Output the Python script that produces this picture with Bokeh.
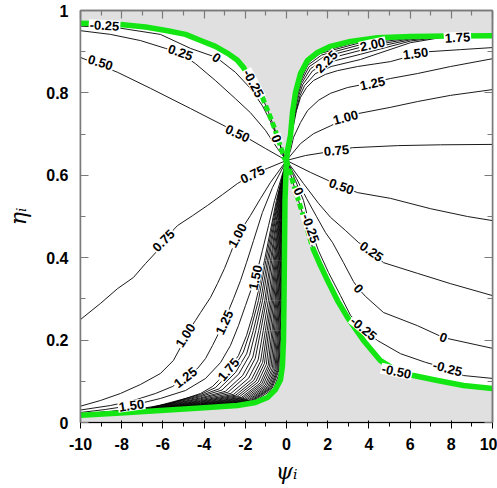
from bokeh.plotting import figure
from bokeh.models import ColumnDataSource, LinearAxis, FixedTicker, Range1d
from bokeh.embed import file_html
from bokeh.resources import INLINE
from bokeh.core.properties import value

# ---------------- data (psi_i, eta_i) ----------------
x_ticks = [-10, -8, -6, -4, -2, 0, 2, 4, 6, 8, 10]
x_tick_labels = ["-10", "-8", "-6", "-4", "-2", "0", "2", "4", "6", "8", "10"]
x_minor = [-9, -7, -5, -3, -1, 1, 3, 5, 7, 9]
y_ticks = [0, 0.2, 0.4, 0.6, 0.8, 1.0]
y_tick_labels = ["0", "0.2", "0.4", "0.6", "0.8", "1"]
y_minor = [0.1, 0.3, 0.5, 0.7, 0.9]

# green boundary of the domain
green_upper_left = [(-10, .969), (-9.03, .968), (-8.06, .966), (-6.84, .960), (-5.78, .951), (-4.90, .942),
                    (-4.17, .927), (-3.45, .913), (-2.86, .896), (-2.38, .879), (-2.09, .862), (-1.75, .830),
                    (-1.46, .806)]
green_upper_left_dashed = [(-1.46, .806), (-1.17, .789), (-0.87, .752), (-0.58, .714), (-0.34, .677),
                           (-0.10, .641), (0, .636)]
green_lower_left = [(0, .636), (-0.073, .539), (-0.097, .417), (-0.121, .296), (-0.146, .199), (-0.194, .138),
                    (-0.291, .104), (-0.534, .080), (-0.922, .0607), (-1.505, .0485), (-2.379, .0413),
                    (-4.175, .0352), (-6.117, .0291), (-8.058, .0231), (-10, .0175)]
green_upper_right = [(0, .636), (0.049, .660), (0.194, .697), (0.291, .752), (0.437, .801), (0.680, .847),
                     (1.019, .879), (1.505, .898), (2.136, .913), (3.107, .925), (4.417, .934), (6.019, .937),
                     (7.961, .938), (10, .939)]
green_lower_right_dashed = [(0, .636), (0.291, .587), (0.583, .539), (0.922, .485), (1.262, .425)]
green_lower_right = [(1.262, .425), (1.650, .381), (1.990, .345), (2.476, .296), (2.961, .255), (3.738, .199),
                     (4.563, .150), (5.340, .126), (6.165, .114), (7.330, .102), (8.592, .0898), (10, .0825)]

# labelled contour lines, left half
left_m025 = green_upper_left + green_upper_left_dashed[1:]
left_0 = [(-10, .962), (-8.06, .957), (-6.12, .942), (-4.66, .908), (-3.40, .886), (-2.48, .850), (-1.75, .811),
          (-1.17, .769), (-0.68, .721), (-0.34, .677), (0, .636)]
left_025 = [(-10, .951), (-8.54, .942), (-7.09, .927), (-5.87, .908), (-5.15, .896), (-4.42, .871), (-3.45, .830),
            (-2.48, .786), (-1.75, .752), (-1.02, .709), (-0.44, .665), (0, .636)]
left_050 = [(-10, .886), (-8.20, .850), (-6.60, .811), (-4.66, .762), (-2.86, .716), (-1.84, .689), (-1.02, .665),
            (0, .636)]
left_075 = [(-10, .250), (-9.03, .289), (-8.20, .325), (-7.43, .352), (-6.84, .386), (-6.26, .417), (-5.97, .442),
            (-5.29, .478), (-4.56, .502), (-3.83, .527), (-3.11, .553), (-2.38, .580), (-1.65, .602),
            (-0.92, .617), (0, .636)]
left_100 = [(-10, .0396), (-9.03, .0534), (-8.06, .0704), (-7.09, .0922), (-6.12, .1189), (-5.49, .1505),
            (-5.15, .1820), (-4.90, .2112), (-4.42, .2476), (-4.17, .2670), (-3.69, .3034), (-3.35, .3374),
            (-3.01, .3738), (-2.72, .4102), (-2.38, .4539), (-1.75, .5024), (-1.26, .5437), (-0.78, .5825),
            (0, .636)]
left_125 = [(-10, .0303), (-8.54, .0413), (-7.43, .0534), (-6.36, .0704), (-5.53, .0874), (-4.90, .1092),
            (-4.32, .1311), (-3.93, .1553), (-3.59, .1869), (-3.30, .2160), (-3.01, .2476), (-2.77, .2767),
            (-2.57, .3010), (-2.23, .3447), (-1.94, .3883), (-1.60, .4417), (-1.17, .5097), (-0.68, .5704),
            (0, .636)]
left_150 = [(-10, .0243), (-8.79, .0316), (-7.52, .0413), (-6.12, .0583), (-4.90, .0777), (-3.93, .1068),
            (-3.20, .1456), (-2.72, .1869), (-2.33, .2354), (-1.99, .2840), (-1.70, .3252), (-1.50, .3519),
            (-1.17, .4175), (-0.87, .4782), (-0.58, .5388), (0, .636)]
left_175 = [(-10, .0206), (-7.57, .0291), (-5.63, .0461), (-4.17, .0704), (-3.59, .0874), (-3.30, .1019),
            (-2.82, .1286), (-2.33, .1626), (-1.94, .2112), (-1.65, .2597), (-1.36, .3204), (-1.07, .3932),
            (-0.78, .4660), (-0.49, .5388), (0, .636)]

# unlabelled, densely packed lines between the 1.75 line and the lower-left boundary
dense_left = [
    [(-10, .0204), (-6.602, .0358), (-4.175, .0679), (-3.446, .0847), (-2.656, .1252), (-2.094, .1711),
     (-1.748, .2233), (-1.363, .2961), (-1.000, .3932), (-0.638, .4903), (-0.357, .5631), (0, .636)],
    [(-10, .0203), (-6.602, .0351), (-4.175, .0651), (-3.279, .0816), (-2.474, .1213), (-1.934, .1668),
     (-1.611, .2233), (-1.256, .2961), (-0.922, .3932), (-0.591, .4903), (-0.332, .5631), (0, .636)],
    [(-10, .0199), (-6.602, .0345), (-4.175, .0627), (-3.133, .0788), (-2.314, .1179), (-1.795, .1631),
     (-1.490, .2233), (-1.162, .2961), (-0.854, .3932), (-0.550, .4903), (-0.311, .5631), (0, .636)],
    [(-10, .0200), (-6.602, .0339), (-4.175, .0598), (-2.966, .0757), (-2.131, .1140), (-1.636, .1588),
     (-1.352, .2233), (-1.055, .2961), (-0.777, .3932), (-0.502, .4903), (-0.286, .5631), (0, .636)],
    [(-10, .0195), (-6.602, .0333), (-4.175, .0577), (-2.841, .0734), (-1.994, .1111), (-1.517, .1556),
     (-1.249, .2233), (-0.975, .2961), (-0.718, .3932), (-0.467, .4903), (-0.267, .5631), (0, .636)],
    [(-10, .0197), (-6.602, .0327), (-4.175, .0553), (-2.695, .0707), (-1.835, .1077), (-1.377, .1518),
     (-1.128, .2233), (-0.882, .2961), (-0.650, .3932), (-0.425, .4903), (-0.245, .5631), (0, .636)],
    [(-10, .0191), (-6.602, .0322), (-4.175, .0532), (-2.569, .0683), (-1.698, .1048), (-1.258, .1486),
     (-1.025, .2233), (-0.802, .2961), (-0.592, .3932), (-0.389, .4903), (-0.227, .5631), (0, .636)],
    [(-10, .0194), (-6.602, .0318), (-4.175, .0514), (-2.465, .0664), (-1.584, .1024), (-1.158, .1460),
     (-0.939, .2233), (-0.735, .2961), (-0.544, .3932), (-0.360, .4903), (-0.211, .5631), (0, .636)],
    [(-10, .0188), (-6.602, .0314), (-4.175, .0498), (-2.371, .0646), (-1.481, .1002), (-1.069, .1436),
     (-0.861, .2233), (-0.675, .2961), (-0.500, .3932), (-0.333, .4903), (-0.197, .5631), (0, .636)],
    [(-10, .0191), (-6.602, .0310), (-4.175, .0482), (-2.277, .0629), (-1.378, .0980), (-0.979, .1412),
     (-0.784, .2233), (-0.615, .2961), (-0.456, .3932), (-0.306, .4903), (-0.183, .5631), (0, .636)],
    [(-10, .0185), (-6.602, .0307), (-4.175, .0466), (-2.183, .0611), (-1.276, .0959), (-0.890, .1388),
     (-0.706, .2233), (-0.555, .2961), (-0.413, .3932), (-0.280, .4903), (-0.169, .5631), (0, .636)],
    [(-10, .0189), (-6.602, .0304), (-4.175, .0454), (-2.110, .0598), (-1.196, .0942), (-0.820, .1369),
     (-0.646, .2233), (-0.508, .2961), (-0.379, .3932), (-0.259, .4903), (-0.158, .5631), (0, .636)],
    [(-10, .0183), (-6.602, .0301), (-4.175, .0442), (-2.037, .0584), (-1.116, .0925), (-0.750, .1350),
     (-0.585, .2233), (-0.461, .2961), (-0.345, .3932), (-0.238, .4903), (-0.147, .5631), (0, .636)],
    [(-10, .0187), (-6.602, .0298), (-4.175, .0429), (-1.964, .0571), (-1.036, .0908), (-0.681, .1331),
     (-0.525, .2233), (-0.415, .2961), (-0.311, .3932), (-0.217, .4903), (-0.136, .5631), (0, .636)],
    [(-10, .0181), (-6.602, .0295), (-4.175, .0419), (-1.902, .0559), (-0.968, .0893), (-0.621, .1315),
     (-0.473, .2233), (-0.375, .2961), (-0.281, .3932), (-0.200, .4903), (-0.127, .5631), (0, .636)],
    [(-10, .0185), (-6.602, .0293), (-4.175, .0408), (-1.839, .0547), (-0.899, .0879), (-0.561, .1299),
     (-0.422, .2233), (-0.335, .2961), (-0.252, .3932), (-0.182, .4903), (-0.118, .5631), (0, .636)],
    [(-10, .0179), (-6.602, .0290), (-4.175, .0400), (-1.787, .0538), (-0.842, .0866), (-0.512, .1286),
     (-0.379, .2233), (-0.301, .2961), (-0.228, .3932), (-0.167, .4903), (-0.110, .5631), (0, .636)],
    [(-10, .0183), (-6.602, .0288), (-4.175, .0391), (-1.735, .0528), (-0.785, .0854), (-0.462, .1273),
     (-0.336, .2233), (-0.268, .2961), (-0.204, .3932), (-0.152, .4903), (-0.102, .5631), (0, .636)],
    [(-10, .0178), (-6.602, .0287), (-4.175, .0384), (-1.693, .0520), (-0.739, .0845), (-0.422, .1262),
     (-0.301, .2233), (-0.241, .2961), (-0.184, .3932), (-0.140, .4903), (-0.096, .5631), (0, .636)],
    [(-10, .0181), (-6.602, .0285), (-4.175, .0377), (-1.651, .0512), (-0.694, .0835), (-0.382, .1251),
     (-0.267, .2233), (-0.214, .2961), (-0.165, .3932), (-0.129, .4903), (-0.090, .5631), (0, .636)],
    [(-10, .0180), (-6.602, .0282), (-4.175, .0366), (-1.588, .0501), (-0.625, .0820), (-0.323, .1235),
     (-0.215, .2233), (-0.174, .2961), (-0.136, .3932), (-0.111, .4903), (-0.080, .5631), (0, .636)],
]

# labelled contour lines, right half
right_075 = [(0, .636), (0.922, .648), (1.796, .655), (2.427, .660), (3.204, .667), (5.388, .672), (7.476, .674),
             (10, .675)]
right_100 = [(0, .636), (0.680, .677), (1.311, .701), (2.136, .720), (2.864, .738), (3.495, .750), (5.049, .765),
             (6.359, .779), (7.961, .794), (10, .808)]
right_125 = [(0, .636), (0.194, .660), (0.340, .692), (0.680, .728), (1.019, .757), (1.553, .782), (2.136, .799),
             (2.961, .813), (4.175, .825), (5.049, .835), (6.359, .847), (7.961, .864), (10, .883)]
right_150 = [(0, .636), (0.291, .709), (0.485, .757), (0.680, .789), (0.971, .813), (1.311, .830), (1.893, .845),
             (2.476, .854), (3.447, .864), (5.049, .876), (6.262, .893), (6.893, .900), (8.447, .905), (10, .910)]
right_050 = [(0, .636), (1.165, .607), (2.039, .587), (2.670, .573), (3.447, .558), (5.049, .544), (6.990, .519),
             (8.786, .500), (10, .490)]
right_025 = [(0, .636), (0.825, .580), (1.553, .532), (2.136, .498), (2.864, .466), (3.495, .437), (4.126, .415),
             (4.709, .388), (6.359, .362), (7.961, .337), (10, .308)]
right_0 = [(0, .636), (0.485, .592), (0.971, .544), (1.456, .500), (1.893, .461), (2.233, .437), (2.767, .388),
           (3.252, .342), (3.495, .325), (3.835, .306), (4.709, .267), (6.359, .235), (7.621, .206), (10, .180)]
right_m025 = [(0, .636), (0.437, .587), (0.825, .539), (1.165, .471), (1.553, .417), (2.039, .364), (2.621, .308),
              (3.107, .260), (3.738, .228), (4.417, .199), (5.534, .167), (6.748, .146), (7.816, .131),
              (8.592, .114), (10, .107)]

# unlabelled lines between the 1.50 line and the upper-right boundary
dense_right = [
    [(0, .636), (0.193, .6845), (0.398, .7451), (0.657, .7937), (0.874, .8174), (1.395, .8465), (2.172, .8641),
     (3.592, .8811), (6.019, .9219), (7.961, .9381)],
    [(0, .636), (0.181, .6845), (0.367, .7451), (0.592, .7937), (0.796, .8208), (1.269, .8538), (2.007, .8738),
     (3.592, .8937), (6.019, .9259), (7.961, .9381)],
    [(0, .636), (0.171, .6845), (0.344, .7451), (0.543, .7937), (0.738, .8233), (1.174, .8592), (1.883, .8811),
     (3.592, .9032), (6.019, .9289), (7.961, .9381)],
    [(0, .636), (0.164, .6845), (0.325, .7451), (0.504, .7937), (0.692, .8253), (1.099, .8636), (1.784, .8869),
     (3.592, .9107), (6.019, .9313), (7.961, .9381)],
    [(0, .636), (0.157, .6845), (0.310, .7451), (0.471, .7937), (0.653, .8270), (1.036, .8672), (1.702, .8918),
     (3.592, .9170), (6.019, .9333), (7.961, .9381)],
    [(0, .636), (0.152, .6845), (0.297, .7451), (0.445, .7937), (0.622, .8284), (0.985, .8702), (1.636, .8956),
     (3.592, .9221), (6.019, .9349), (7.961, .9381)],
    [(0, .636), (0.149, .6845), (0.288, .7451), (0.426, .7937), (0.599, .8294), (0.947, .8723), (1.586, .8986),
     (3.592, .9259), (6.019, .9361), (7.961, .9381)],
]

# contour labels
label_text = ["-0.25", "0.25", "0", "0.50", "0.50", "-0.25", "0", "0.75", "0.75", "1.00", "1.00", "1.25", "1.25",
              "1.50", "1.50", "1.75", "0.75", "1.00", "1.25", "1.50", "1.75", "2.00", "2.25", "0.50", "0.25",
              "0", "0", "-0.25", "-0.25", "-0.50", "0", "-0.25"]
label_psi = [-8.835, -5.146, -3.398, -9.029, -2.379, -1.602, -0.485, -5.971, -1.650, -4.903, -2.379, -4.903,
             -3.010, -7.524, -1.505, -2.816, 2.427, 2.864, 4.175, 6.262, 8.301, 4.175, 1.942, 2.670, 4.126,
             3.495, 7.621, 3.738, 7.816, 5.340, 0.583, 1.165]
label_eta = [.9636, .8981, .8859, .8738, .7015, .8228, .6893, .4417, .6019, .2112, .4539, .1092, .2427, .0413,
             .3519, .1286, .6602, .7403, .8228, .8956, .9345, .9175, .8762, .5728, .4150, .3252, .2063, .2282,
             .1311, .1238, .5607, .4709]
label_angle = [-3, -20, -35, -17, -25, -62, -70, 45, 25, 58, 62, 38, 65, 8, 78, 50, 5, 15, 12, 7, 3, 12, 45,
               -20, -35, -50, -20, -40, -15, -12, -65, -70]

# ---------------- figure ----------------
GRAY = "#e0e0e0"
GREEN = "#14e614"
AXIS = "#7a7a7a"

p = figure(width=497, height=488, x_range=Range1d(-10, 10), y_range=Range1d(0, 1),
           output_backend="svg", toolbar_location=None,
           min_border_left=80, min_border_right=5, min_border_top=10, min_border_bottom=66)
p.background_fill_color = GRAY
p.border_fill_color = "white"
p.outline_line_color = AXIS
p.outline_line_width = 1.5
p.grid.visible = False


def xs(pts):
    return [a for a, b in pts]


def ys(pts):
    return [b for a, b in pts]


# white (valid) regions
left_region = green_upper_left + green_upper_left_dashed[1:] + green_lower_left[1:]
right_region = green_upper_right + list(reversed(green_lower_right)) + list(reversed(green_lower_right_dashed))[1:]
p.patches(xs=[xs(left_region), xs(right_region)], ys=[ys(left_region), ys(right_region)],
          fill_color="white", line_color=None)

# contour lines
black_lines = [left_m025, left_0, left_025, left_050, left_075, left_100, left_125, left_150, left_175,
               right_075, right_100, right_125, right_150, right_050, right_025, right_0, right_m025,
               green_upper_right, green_lower_right_dashed + green_lower_right[1:]] + dense_left + dense_right
p.multi_line(xs=[xs(l) for l in black_lines], ys=[ys(l) for l in black_lines], line_color="black",
             line_width=0.9)

# green boundary
solid_green = [green_upper_left, green_lower_left, green_upper_right, green_lower_right]
p.multi_line(xs=[xs(l) for l in solid_green], ys=[ys(l) for l in solid_green], line_color=GREEN,
             line_width=5.5, line_cap="butt", line_join="round")
dashed_green = [green_upper_left_dashed, green_lower_right_dashed]
p.multi_line(xs=[xs(l) for l in dashed_green], ys=[ys(l) for l in dashed_green], line_color=GREEN,
             line_width=5, line_dash="6 3", line_cap="butt")

# labels
src = ColumnDataSource(dict(x=label_psi, y=label_eta, t=label_text, a=label_angle))
p.text(x="x", y="y", text="t", angle="a", angle_units="deg", source=src,
       text_font=value("Liberation Sans"), text_font_style="bold", text_font_size="13px",
       text_align="center", text_baseline="middle", text_color="black",
       background_fill_color="white", padding=1)

# axes
for ax in (p.xaxis[0], p.yaxis[0]):
    ax.major_label_text_font = "Liberation Sans"
    ax.major_label_text_font_style = "bold"
    ax.major_label_text_font_size = "16px"
    ax.major_label_text_color = "black"
    ax.axis_label_text_font = "DejaVu Serif"
    ax.axis_label_text_font_style = "italic"
    ax.axis_label_text_font_size = "22px"
    ax.axis_label_text_color = "black"

p.xaxis[0].ticker = FixedTicker(ticks=x_ticks, minor_ticks=x_minor)
p.yaxis[0].ticker = FixedTicker(ticks=y_ticks, minor_ticks=y_minor)
p.xaxis[0].major_label_overrides = dict(zip(x_ticks, x_tick_labels))
p.yaxis[0].major_label_overrides = dict(zip(y_ticks, y_tick_labels))
p.xaxis[0].axis_label = "ψᵢ"
p.yaxis[0].axis_label = "ηᵢ"
p.xaxis[0].major_label_standoff = 9
p.yaxis[0].major_label_standoff = 12
p.xaxis[0].axis_label_standoff = 6
p.yaxis[0].axis_label_standoff = 12

top = LinearAxis(ticker=FixedTicker(ticks=x_ticks, minor_ticks=x_minor),
                 major_label_text_font_size="1px", major_label_text_color=None, major_label_standoff=0)
right = LinearAxis(ticker=FixedTicker(ticks=y_ticks, minor_ticks=y_minor),
                   major_label_text_font_size="1px", major_label_text_color=None, major_label_standoff=0)
p.add_layout(top, "above")
p.add_layout(right, "right")

for ax in (p.xaxis[0], p.yaxis[0], top, right):
    ax.axis_line_color = AXIS
    ax.axis_line_width = 1.5
    ax.major_tick_line_color = AXIS
    ax.minor_tick_line_color = AXIS
    ax.major_tick_line_width = 1.2
    ax.minor_tick_line_width = 1.2
    ax.major_tick_in = 8
    ax.major_tick_out = 0
    ax.minor_tick_in = 5
    ax.minor_tick_out = 0

open("out.html", "w").write(file_html(p, INLINE))
